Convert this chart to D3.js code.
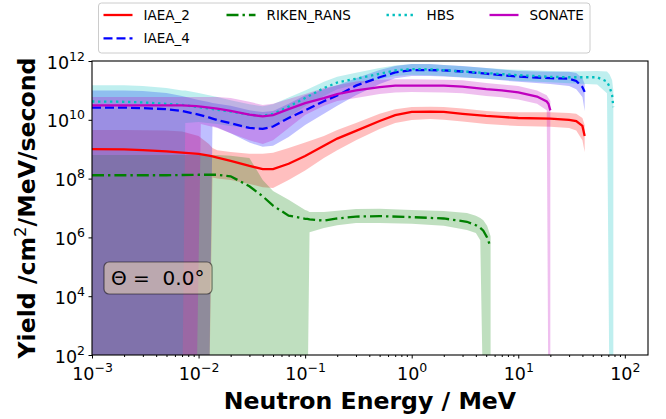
<!DOCTYPE html>
<html>
<head>
<meta charset="utf-8">
<script src="https://cdn.jsdelivr.net/npm/d3@7"></script>
<style>
  body { margin: 0; background: #fff; }
  svg { display: block; font-family: "DejaVu Sans", sans-serif; }
</style>
</head>
<body>
<div id="chart"></div>
<script>
// IAEA_2 (Energie in MeV, Ausbeute, Band unten/oben)
const iaea2E  = [0.001, 0.002, 0.003, 0.005, 0.007, 0.01, 0.0125, 0.0135, 0.015, 0.02, 0.03, 0.04, 0.05, 0.07, 0.1, 0.15, 0.2, 0.3, 0.5, 0.7, 1, 1.5, 2, 3, 5, 7, 10, 20, 30, 35, 40, 42];
const iaea2Y  = [1.0e9, 9.8e8, 9.3e8, 8.5e8, 7.6e8, 6.9e8, 6.0e8, 5.7e8, 5.2e8, 4.0e8, 2.7e8, 2.1e8, 2.1e8, 3.2e8, 5.9e8, 1.3e9, 2.3e9, 4.2e9, 9.1e9, 1.45e10, 1.85e10, 1.9e10, 1.85e10, 1.6e10, 1.35e10, 1.25e10, 1.15e10, 1.1e10, 1.0e10, 9.0e9, 6.2e9, 2.8e9];
const iaea2Lo = [0, 0, 0, 0, 0, 0, 0, 1.1e8, 1.0e8, 9.0e7, 6.6e7, 5.1e7, 4.8e7, 9.0e7, 1.9e8, 5.0e8, 9.3e8, 2.0e9, 4.9e9, 7.8e9, 9.8e9, 1.07e10, 1.0e10, 8.7e9, 7.2e9, 6.6e9, 6.2e9, 5.8e9, 5.3e9, 4.3e9, 2.0e9, 8.0e8];
const iaea2Hi = [4.5e9, 4.5e9, 4.4e9, 4.3e9, 4.0e9, 2.8e9, 1.5e9, 1.1e9, 9.3e8, 8.0e8, 7.0e8, 7.0e8, 7.5e8, 1.1e9, 1.7e9, 2.8e9, 4.5e9, 7.8e9, 1.6e10, 2.3e10, 2.7e10, 2.8e10, 2.7e10, 2.4e10, 2.0e10, 1.85e10, 1.8e10, 1.8e10, 1.7e10, 1.6e10, 1.15e10, 6.6e9];

// IAEA_4
const iaea4E  = [0.001, 0.002, 0.003, 0.005, 0.007, 0.01, 0.0125, 0.0135, 0.015, 0.02, 0.03, 0.04, 0.05, 0.07, 0.1, 0.15, 0.2, 0.3, 0.5, 0.7, 1, 1.5, 2, 3, 5, 7, 10, 20, 30, 35, 40, 42];
const iaea4Y  = [2.6e10, 2.6e10, 2.5e10, 2.3e10, 2.0e10, 1.5e10, 1.2e10, 1.1e10, 9.8e9, 7.6e9, 5.3e9, 4.9e9, 5.9e9, 1.15e10, 2.1e10, 4.3e10, 6.7e10, 1.45e11, 2.8e11, 4.1e11, 4.9e11, 4.9e11, 4.8e11, 4.4e11, 3.7e11, 3.3e11, 2.95e11, 2.6e11, 2.5e11, 2.1e11, 1.3e11, 8.9e10];
const iaea4Lo = [0, 0, 0, 0, 0, 0, 0, 6.2e9, 5.5e9, 3.5e9, 1.7e9, 1.2e9, 1.3e9, 2.6e9, 6.6e9, 1.6e10, 3.0e10, 6.9e10, 1.66e11, 2.6e11, 3.1e11, 3.1e11, 2.95e11, 2.75e11, 2.5e11, 2.2e11, 1.95e11, 1.66e11, 1.4e11, 1.1e11, 6.0e10, 2.0e10];
const iaea4Hi = [1.0e11, 1.0e11, 9.6e10, 8.1e10, 6.5e10, 4.7e10, 4.0e10, 3.7e10, 3.5e10, 3.0e10, 2.1e10, 1.85e10, 2.0e10, 3.5e10, 6.9e10, 1.1e11, 1.5e11, 2.6e11, 4.9e11, 6.8e11, 7.9e11, 7.9e11, 7.3e11, 6.8e11, 5.8e11, 5.1e11, 4.6e11, 4.3e11, 4.3e11, 3.9e11, 2.6e11, 1.66e11];

// RIKEN_RANS
const rikenE  = [0.001, 0.002, 0.005, 0.01, 0.015, 0.02, 0.03, 0.04, 0.05, 0.07, 0.1, 0.105, 0.11, 0.15, 0.2, 0.3, 0.5, 1, 2, 3.3, 4.0, 4.4, 4.7, 5.1, 5.5];
const rikenY  = [1.3e8, 1.3e8, 1.3e8, 1.35e8, 1.35e8, 1.2e8, 5.5e7, 2.5e7, 1.2e7, 5.5e6, 4.3e6, 4.3e6, 4.1e6, 3.7e6, 4.4e6, 5.1e6, 5.3e6, 4.9e6, 4.4e6, 3.4e6, 2.6e6, 2.1e6, 1.7e6, 1.0e6, 4.7e5];
const rikenLo = [0, 0, 0, 0, 0, 0, 0, 0, 0, 0, 0, 0, 1.5e6, 2.1e6, 2.6e6, 3.1e6, 3.1e6, 2.9e6, 2.5e6, 1.8e6, 1.4e6, 8.0e5, 0, 0, 0];
const rikenHi = [6.3e8, 6.3e8, 6.3e8, 6.3e8, 6.3e8, 6.0e8, 5.0e8, 9.0e7, 3.8e7, 1.9e7, 8.5e6, 8.0e6, 7.3e6, 7.3e6, 8.0e6, 9.3e6, 9.5e6, 8.5e6, 7.9e6, 6.8e6, 5.5e6, 4.6e6, 3.8e6, 2.5e6, 1.1e6];

// HBS
const hbsE  = [0.001, 0.002, 0.003, 0.005, 0.007, 0.0075, 0.01, 0.015, 0.02, 0.03, 0.04, 0.05, 0.07, 0.1, 0.15, 0.2, 0.3, 0.5, 0.7, 1, 1.5, 2, 3, 5, 7, 10, 20, 30, 55, 68, 72, 76, 78];
const hbsY  = [4.2e10, 4.1e10, 3.9e10, 3.5e10, 3.2e10, 3.1e10, 2.7e10, 2.2e10, 1.9e10, 1.5e10, 1.35e10, 1.6e10, 2.8e10, 5.5e10, 1.2e11, 1.85e11, 2.5e11, 3.7e11, 4.8e11, 5.3e11, 5.2e11, 4.9e11, 4.4e11, 3.9e11, 3.6e11, 3.3e11, 2.9e11, 2.8e11, 2.8e11, 2.0e11, 1.3e11, 6.9e10, 2.7e10];
const hbsLo = [0, 0, 0, 0, 0, 7.8e9, 8.5e9, 7.2e9, 6.2e9, 5.3e9, 4.9e9, 6.0e9, 1.2e10, 2.9e10, 6.5e10, 1.1e11, 1.6e11, 2.4e11, 3.1e11, 3.4e11, 3.3e11, 3.1e11, 2.8e11, 2.5e11, 2.3e11, 2.1e11, 1.9e11, 1.75e11, 1.6e11, 8.0e10, 0, 0, 0];
const hbsHi = [1.5e11, 1.5e11, 1.4e11, 1.2e11, 1.0e11, 1.0e11, 8.1e10, 6.0e10, 4.6e10, 3.4e10, 2.9e10, 3.4e10, 5.7e10, 1.0e11, 1.95e11, 2.9e11, 4.0e11, 5.8e11, 7.0e11, 7.9e11, 7.7e11, 7.3e11, 6.6e11, 5.8e11, 5.3e11, 5.0e11, 4.6e11, 4.4e11, 4.6e11, 4.4e11, 3.5e11, 2.2e11, 1.0e11];

// SONATE
const sonateE  = [0.001, 0.002, 0.003, 0.005, 0.007, 0.0095, 0.0105, 0.015, 0.02, 0.03, 0.04, 0.05, 0.07, 0.1, 0.15, 0.2, 0.3, 0.5, 0.7, 1, 2, 3, 5, 7, 10, 15, 18.5, 19.2, 20];
const sonateY  = [3.1e10, 3.1e10, 3.1e10, 3.1e10, 3.1e10, 2.9e10, 2.8e10, 2.4e10, 2.0e10, 1.5e10, 1.3e10, 1.45e10, 2.3e10, 3.7e10, 5.5e10, 7.5e10, 1.0e11, 1.3e11, 1.45e11, 1.45e11, 1.45e11, 1.35e11, 1.1e11, 1.0e11, 8.5e10, 6.2e10, 4.2e10, 3.5e10, 2.1e10];
const sonateLo = [0, 0, 0, 0, 0, 0, 7.2e9, 5.3e9, 3.5e9, 2.0e9, 1.5e9, 2.0e9, 5.3e9, 1.45e10, 3.0e10, 4.4e10, 5.5e10, 7.5e10, 8.5e10, 8.9e10, 8.5e10, 8.0e10, 6.5e10, 5.8e10, 4.9e10, 3.5e10, 2.1e10, 0, 0];
const sonateHi = [6.0e10, 6.0e10, 6.0e10, 6.0e10, 6.0e10, 6.0e10, 6.0e10, 6.0e10, 5.5e10, 4.1e10, 3.2e10, 3.5e10, 5.1e10, 7.6e10, 1.2e11, 1.5e11, 2.0e11, 2.3e11, 2.4e11, 2.4e11, 2.3e11, 2.2e11, 1.8e11, 1.6e11, 1.4e11, 1.0e11, 6.9e10, 5.5e10, 4.4e10];

// Achsen-Ticks
const yTickExps = [2, 4, 6, 8, 10, 12];
const xTickExps = [-3, -2, -1, 0, 1, 2];
const angleLabel = 'Θ =  0.0°';

const series = [
  {name: 'IAEA_2', e: iaea2E, v: iaea2Y, lo: iaea2Lo, hi: iaea2Hi, color: '#ff0000', dash: null},
  {name: 'IAEA_4', e: iaea4E, v: iaea4Y, lo: iaea4Lo, hi: iaea4Hi, color: '#0000ff', dash: '9,4'},
  {name: 'RIKEN_RANS', e: rikenE, v: rikenY, lo: rikenLo, hi: rikenHi, color: '#008000', dash: '12,4,2.4,4'},
  {name: 'HBS', e: hbsE, v: hbsY, lo: hbsLo, hi: hbsHi, color: '#00bfbf', dash: '2.4,3.6'},
  {name: 'SONATE', e: sonateE, v: sonateY, lo: sonateLo, hi: sonateHi, color: '#bf00bf', dash: null},
];

const width = 666, height = 419;
const margin = {top: 61, right: 18, bottom: 64, left: 92};
const innerW = width - margin.left - margin.right;
const innerH = height - margin.top - margin.bottom;

const svg = d3.select('#chart').append('svg')
  .attr('width', width)
  .attr('height', height);

const g = svg.append('g').attr('transform', `translate(${margin.left},${margin.top})`);

const x = d3.scaleLog().domain([1e-3, 165]).range([0, innerW]);
const y = d3.scaleLog().domain([1e2, 1e12]).range([innerH, 0]);

g.append('clipPath').attr('id', 'plotclip')
  .append('rect').attr('width', innerW).attr('height', innerH);

const floor = 1; // nichtpositive Werte wie matplotlib unter die Achse schieben

const rows = s => s.e.map((e, i) => ({e, v: s.v[i], lo: s.lo[i], hi: s.hi[i]}));

// Fehlerbänder (zuerst, liegen unter den Linien)
const area = d3.area()
  .x(d => x(d.e))
  .y0(d => y(Math.max(d.lo, floor)))
  .y1(d => y(Math.max(d.hi, floor)));

const bands = g.append('g').attr('clip-path', 'url(#plotclip)');
series.forEach(s => {
  bands.append('path')
    .datum(rows(s))
    .attr('d', area)
    .attr('fill', s.color)
    .attr('fill-opacity', 0.25);
});

// Linien
const line = d3.line().x(d => x(d.e)).y(d => y(d.v));
const lines = g.append('g').attr('clip-path', 'url(#plotclip)');
series.forEach(s => {
  lines.append('path')
    .datum(rows(s))
    .attr('d', line)
    .attr('fill', 'none')
    .attr('stroke', s.color)
    .attr('stroke-width', 2.3)
    .attr('stroke-dasharray', s.dash);
});

// Achsen
const sup = (sel, exp) => {
  sel.text(null);
  sel.append('tspan').text('10');
  sel.append('tspan').attr('dy', -8).attr('font-size', 12.5).text(String(exp).replace('-', '\u2212'));
};

const xMinor = [];
for (let p = -3; p <= 2; p++) for (let k = 2; k <= 9; k++) {
  const v = k * Math.pow(10, p);
  if (v <= x.domain()[1]) xMinor.push(v);
}

const xAxisG = g.append('g')
  .attr('transform', `translate(0,${innerH})`)
  .call(d3.axisBottom(x).tickValues(xTickExps.map(p => Math.pow(10, p))).tickSize(3.5));
xAxisG.selectAll('.tick text').each(function(d, i) {
  d3.select(this).attr('y', 25).attr('dy', 0).call(sup, xTickExps[i]);
});

g.append('g')
  .attr('transform', `translate(0,${innerH})`)
  .call(d3.axisBottom(x).tickValues(xMinor).tickSize(2).tickFormat(''));

const yAxisG = g.append('g')
  .call(d3.axisLeft(y).tickValues(yTickExps.map(p => Math.pow(10, p))).tickSize(3.5).tickPadding(3.5));
yAxisG.selectAll('.tick text').each(function(d, i) {
  d3.select(this).attr('dy', 7).call(sup, yTickExps[i]);
});

svg.selectAll('.domain').remove();
svg.selectAll('.tick line').attr('stroke', '#000');
svg.selectAll('.tick text').attr('fill', '#000').attr('font-size', 17.5).attr('font-family', '"DejaVu Sans", sans-serif');

// Rahmen
g.append('rect')
  .attr('width', innerW).attr('height', innerH)
  .attr('fill', 'none').attr('stroke', '#000').attr('stroke-width', 1.1);

// Achsenbeschriftung
svg.append('text')
  .attr('x', margin.left + innerW / 2)
  .attr('y', 409)
  .attr('text-anchor', 'middle')
  .attr('font-size', 23.6).attr('font-weight', 'bold')
  .text('Neutron Energy / MeV');

const yl = svg.append('text')
  .attr('transform', `translate(35,${margin.top + innerH / 2}) rotate(-90)`)
  .attr('text-anchor', 'middle')
  .attr('font-size', 23.6).attr('font-weight', 'bold');
yl.append('tspan').text('Yield /cm');
yl.append('tspan').attr('dy', -9).attr('font-size', 16.5).attr('font-weight', 'normal').text('2');
yl.append('tspan').attr('dy', 9).text('/MeV/second');

// Winkel-Box
const ann = svg.append('g').attr('transform', 'translate(104,262)');
ann.append('rect')
  .attr('width', 108).attr('height', 32).attr('rx', 5)
  .attr('fill', '#f5deb3').attr('fill-opacity', 0.5)
  .attr('stroke', '#000').attr('stroke-opacity', 0.5).attr('stroke-width', 1.2);
ann.append('text')
  .attr('x', 7).attr('y', 23)
  .attr('font-size', 20)
  .style('white-space', 'pre')
  .text(angleLabel);

// Legende
const leg = svg.append('g').attr('transform', 'translate(98.5,3)');
leg.append('rect')
  .attr('width', 491.5).attr('height', 50).attr('rx', 3)
  .attr('fill', '#fff').attr('fill-opacity', 0.8)
  .attr('stroke', '#ccc').attr('stroke-width', 1);

const colX = [5, 128, 288, 391];
const slots = [[0, 0], [0, 1], [1, 0], [2, 0], [3, 0]];
series.forEach((s, i) => {
  const [c, r] = slots[i];
  const lg = leg.append('g').attr('transform', `translate(${colX[c]},${12 + r * 23.3})`);
  lg.append('line')
    .attr('x1', 0).attr('x2', 29)
    .attr('stroke', s.color).attr('stroke-width', 2.3)
    .attr('stroke-dasharray', s.dash);
  lg.append('text')
    .attr('x', 40).attr('y', 5)
    .attr('font-size', 13.5)
    .text(s.name);
});
</script>
</body>
</html>
